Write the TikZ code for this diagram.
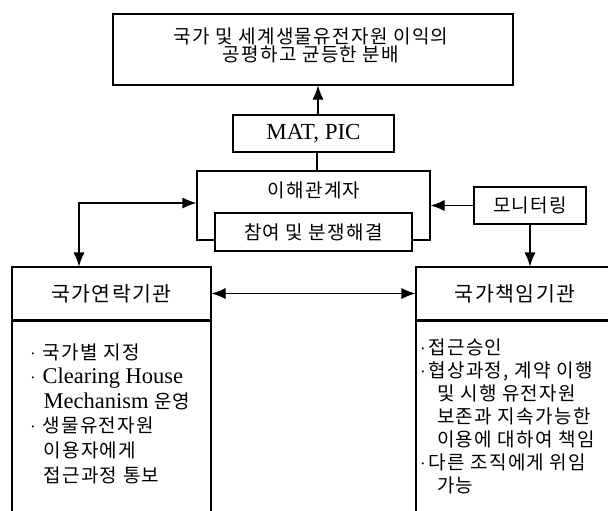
\documentclass[tikz,border=0pt]{standalone}
\usepackage{fontspec}
\setmainfont{Liberation Serif}
\newfontfamily\kr[LetterSpace=7]{Noto Sans CJK KR}
\usetikzlibrary{arrows.meta}
\newcommand\lat[1]{{\rmfamily\fontsize{22.5}{24}\selectfont #1}}
\newcommand\bulL{\makebox[12.4pt][l]{\rmfamily\fontsize{17}{18}\selectfont ·}}
\newcommand\indL{\hspace*{13.4pt}}
\newcommand\bulR{\makebox[8.4pt][l]{\rmfamily\fontsize{17}{18}\selectfont ·}}
\newcommand\indR{\hspace*{17pt}}
\begin{document}
\begin{tikzpicture}[x=1pt,y=-1pt,line width=1.1pt,
  box/.style={draw,rectangle,inner sep=0pt,fill=white},
  kt/.style={font=\kr\fontsize{19}{17.5}\selectfont},
  kh/.style={font=\kr\fontsize{20.5}{21}\selectfont},
  arr/.style={-{Latex[length=14pt,width=11pt]}},
  darr/.style={{Latex[length=14pt,width=11pt]}-{Latex[length=14pt,width=11pt]}},
  ln/.style={anchor=base west,inner sep=0pt,kt}]
\useasboundingbox (0,0) rectangle (608,511);
\clip (0,0) rectangle (608,511);
\fill[white] (0,0) rectangle (608,511);
% top box
\node[box,minimum width=400pt,minimum height=71pt] (top) at (313,49.5) {};
\node[kt,align=center,inner sep=0pt] (toptext) at (311,45.5) {국가 및 세계생물유전자원 이익의\\공평하고 균등한 분배};
% MAT, PIC
\node[box,minimum width=161pt,minimum height=37pt,font=\rmfamily\fontsize{23}{24}\selectfont] (mat) at (313.5,133.5) {MAT, PIC};
% stakeholders
\node[box,minimum width=233pt,minimum height=69pt] (stake) at (313.5,205.5) {};
\node[kt,inner sep=0pt] (stakelbl) at (314,190) {이해관계자};
\node[box,minimum width=197pt,minimum height=38pt,kt] (inner) at (313.5,232) {참여 및 분쟁해결};
% monitoring
\node[box,minimum width=112pt,minimum height=37pt,kt] (mon) at (530,205.5) {모니터링};
% left institution
\node[box,minimum width=199pt,minimum height=53pt,kh] (lh) at (111.5,293.5) {국가연락기관};
\node[box,minimum width=199pt,minimum height=220pt,anchor=north] (lb) at (lh.south) {};
% right institution
\node[box,minimum width=198pt,minimum height=53pt,kh] (rh) at (515,293.5) {국가책임기관};
\node[box,minimum width=198pt,minimum height=220pt,anchor=north] (rb) at (rh.south) {};
% left body text
\node[ln] (l1) at (29.6,359) {\bulL 국가별 지정};
\node[ln] (l2) at (29.6,383.6) {\bulL\lat{Clearing House}};
\node[ln] (l3) at (29.6,408.2) {\indL\lat{Mechanism} 운영};
\node[ln] (l4) at (29.6,432.8) {\bulL 생물유전자원};
\node[ln] (l5) at (29.6,457.4) {\indL 이용자에게};
\node[ln] (l6) at (29.6,482) {\indL 접근과정 통보};
% right body text
\node[ln] (r1) at (419.6,354) {\bulR 접근승인};
\node[ln] (r2) at (419.6,377) {\bulR 협상과정, 계약 이행};
\node[ln] (r3) at (419.6,400) {\indR 및 시행 유전자원};
\node[ln] (r4) at (419.6,423) {\indR 보존과 지속가능한};
\node[ln] (r5) at (419.6,446) {\indR 이용에 대하여 책임};
\node[ln] (r6) at (419.6,469) {\bulR 다른 조직에게 위임};
\node[ln] (r7) at (419.6,492) {\indR 가능};
% connectors
\draw[arr] ([xshift=4.5pt]mat.north) -- ([xshift=4.5pt]mat.north |- top.south);
\draw ([xshift=3.5pt]mat.south) -- ([xshift=3.5pt]mat.south |- stake.north);
\draw[darr] ([yshift=2.5pt]stake.west) -| ([xshift=-32.5pt]lh.north);
\draw[arr] (mon.west) -- (stake.east);
\draw[arr] (mon.south) -- (mon.south |- rh.north);
\draw[darr] (lh.east) -- (rh.west);
\end{tikzpicture}
\end{document}
